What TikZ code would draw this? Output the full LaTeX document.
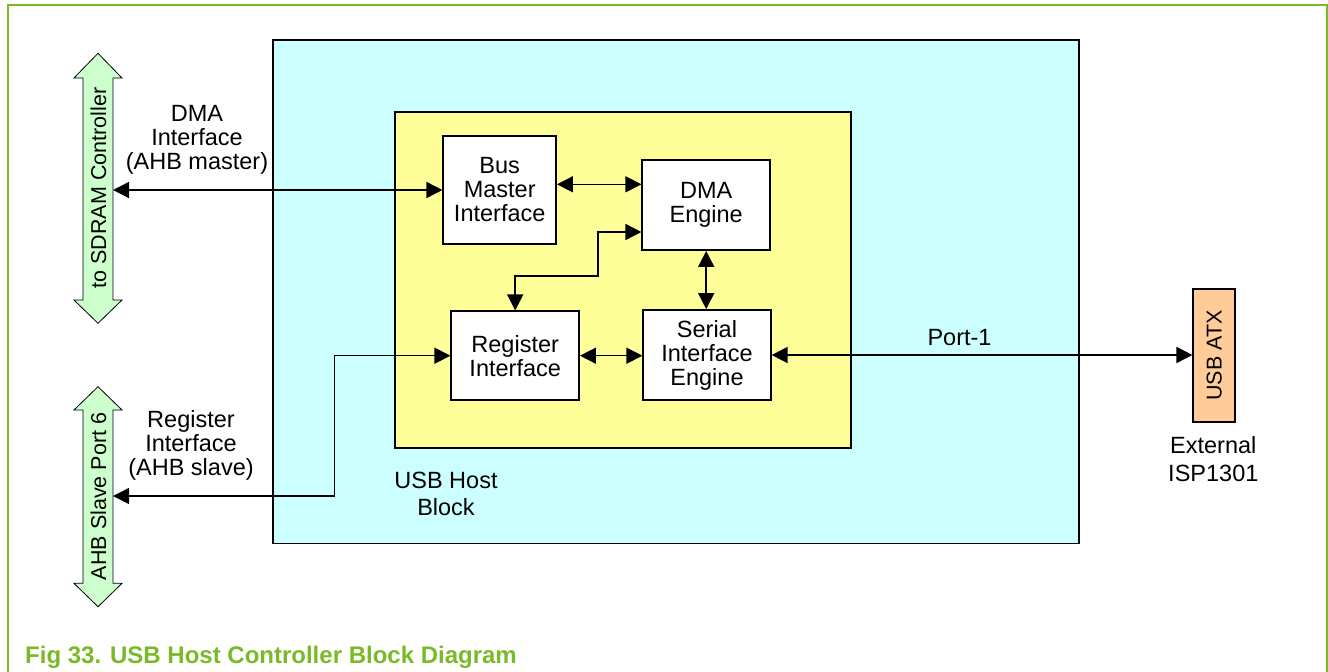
\documentclass[tikz,border=0pt]{standalone}
\usepackage{fontspec}
\setmainfont{Liberation Sans}
\usepackage{graphicx}
\usetikzlibrary{arrows.meta,calc}
\definecolor{hostcyan}{RGB}{204,255,255}
\definecolor{coreyellow}{RGB}{255,255,153}
\definecolor{busgreen}{RGB}{204,255,204}
\definecolor{atxorange}{RGB}{255,204,153}
\definecolor{framegreen}{RGB}{122,186,40}
\begin{document}
\begin{tikzpicture}[x=1pt,y=-1pt,
  txt/.style={font=\fontsize{23.5}{24}\selectfont, inner sep=0pt, align=center},
  container/.style={draw, line width=1.8pt, inner sep=0pt},
  block/.style={draw, line width=1.8pt, fill=white, inner sep=0pt, align=center, font=\fontsize{23.5}{24}\selectfont},
  link/.style={line width=1.5pt, {Triangle[length=16pt,width=16pt]}-{Triangle[length=16pt,width=16pt]}},
  busarrow/.style={draw, line width=0.8pt, fill=busgreen},
  vlabel/.style={rotate=90, font=\fontsize{21.5}{24}\selectfont, inner sep=0pt}
]
\useasboundingbox (0,0) rectangle (1328,672);
% frame
\draw[framegreen, line width=2pt] (7.5,672) -- (7.5,4.5) -- (1327,4.5) -- (1327,672);

% containers
\node[container, fill=hostcyan, minimum width=806pt, minimum height=503.5pt] (host) at (676,291.75) {};
\node[container, fill=coreyellow, minimum width=456pt, minimum height=335.5pt] (core) at (623,280) {};

% blocks
\node[block, minimum width=112.7pt, minimum height=108pt] (bm) at (499.7,190) {Bus\\Master\\Interface};
\node[block, minimum width=127.7pt, minimum height=89.7pt] (dma) at (706.2,205.2) {DMA\\Engine};
\node[block, minimum width=127.7pt, minimum height=88.7pt] (reg) at (515.2,355.7) {Register\\Interface};
\node[block, minimum width=127.4pt, minimum height=90pt] (sie) at (707,355) {Serial\\Interface\\Engine};
\node[draw, line width=1.8pt, fill=atxorange, inner sep=0pt, minimum width=41.7pt, minimum height=132.4pt] (atx) at (1214.2,355.5) {\rotatebox{90}{\fontsize{21.5}{24}\selectfont USB ATX}};

% green bus arrows
\draw[busarrow] (98,53.3) -- (122,78) -- (113,78) -- (113,300) -- (122,300) -- (98,323.3)
  -- (74,300) -- (83,300) -- (83,78) -- (74,78) -- cycle;
\draw[busarrow] (98,386.7) -- (122,410) -- (113,410) -- (113,583.3) -- (122,583.3) -- (98,606.7)
  -- (74,583.3) -- (83,583.3) -- (83,410) -- (74,410) -- cycle;
\node[vlabel] (sdram) at (98.5,188) {to SDRAM Controller};
\node[vlabel] (ahb) at (98.5,496.5) {AHB Slave Port 6};
\coordinate (sdramport) at (113,188);
\coordinate (ahbport) at (113,496);

% labels
\node[txt, anchor=north] (dmalbl) at (197,105) {DMA\\Interface\\(AHB master)};
\node[txt, anchor=north] (reglbl) at (191,410) {Register\\Interface\\(AHB slave)};
\node[txt, anchor=north, font=\fontsize{23.5}{27}\selectfont] (hostlbl) at (446,472) {USB Host\\Block};
\node[txt, anchor=base] (portlbl) at (959.5,345) {Port-1};
\node[txt, anchor=north, font=\fontsize{23.5}{28.5}\selectfont] (extlbl) at (1213.3,436) {External\\ISP1301};

% connectors
\draw[link] (bm.west) -- (bm.west -| sdramport);
\coordinate (p1) at ($(bm.east)+(0,-5.7)$);
\draw[link] (p1) -- (p1 -| dma.west);
\coordinate (p2) at ($(dma.west)+(0,26.8)$);
\coordinate (p3) at ($(reg.north)+(0,-34.5)$);
\draw[link] (p2) -- ++(-43.3,0) |- (p3) -- (reg.north);
\draw[link] (dma.south) -- (dma.south |- sie.north);
\draw[link] (reg.east) -- (reg.east -| sie.west);
\draw[link] (sie.east) -- (sie.east -| atx.west);
\draw[link] (reg.west) -- ++(-116,0) |- (ahbport);

% caption
\node[anchor=base west, inner sep=0pt, font=\fontsize{24}{28}\selectfont\bfseries, text=framegreen] (caption) at (25,663) {Fig 33. USB Host Controller Block Diagram};
\end{tikzpicture}
\end{document}
